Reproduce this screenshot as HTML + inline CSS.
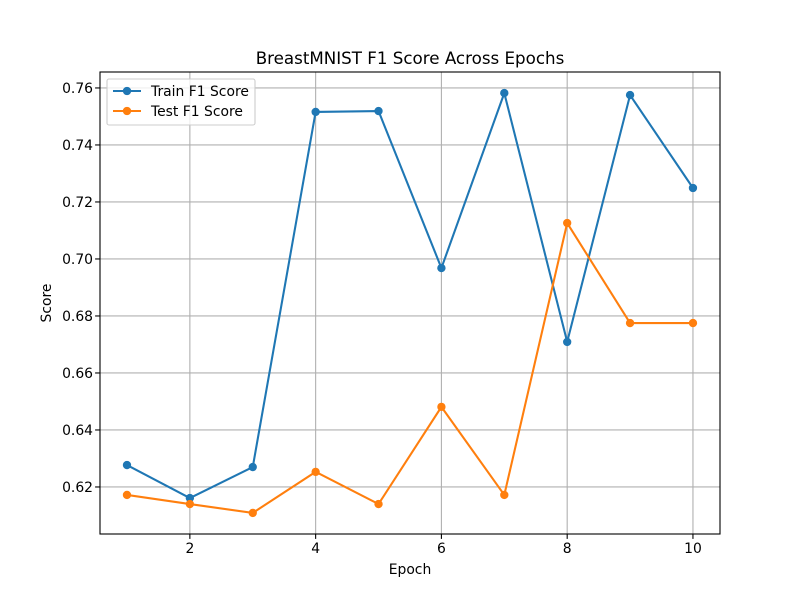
<!DOCTYPE html>
<html><head><meta charset="utf-8"><style>body{margin:0;background:#fff}svg{display:block;font-family:"DejaVu Sans","Liberation Sans",sans-serif}</style></head>
<body>
<svg id="chart" width="800" height="600"></svg>
<script>
const epochs=[1,2,3,4,5,6,7,8,9,10];
const trainF1=[0.6277,0.6161,0.627,0.7516,0.7519,0.6968,0.7582,0.6709,0.7575,0.7249];
const testF1=[0.6172,0.614,0.6109,0.6253,0.614,0.6481,0.6172,0.7126,0.6775,0.6775];
const xTicks=[2,4,6,8,10];
const yTicks=[0.62,0.64,0.66,0.68,0.70,0.72,0.74,0.76];
const L=100,R=720,T=72,B=534,x0=0.571,x1=10.43,y0=0.6035,y1=0.7656;
const X=v=>L+(v-x0)/(x1-x0)*(R-L);
const Y=v=>B-(v-y0)/(y1-y0)*(B-T);
const svg=document.getElementById('chart');const NS='http://www.w3.org/2000/svg';
function mk(t,a,p){const e=document.createElementNS(NS,t);for(const k in a)e.setAttribute(k,a[k]);(p||svg).appendChild(e);return e;}
const grid=mk('g',{});


xTicks.forEach(v=>{mk('line',{x1:X(v),x2:X(v),y1:T,y2:B,stroke:'#b0b0b0','stroke-width':1.1},grid);
mk('line',{x1:X(v),x2:X(v),y1:B,y2:B+4.9,stroke:'#000','stroke-width':1.1});
const t=mk('text',{x:X(v),y:B+19,'font-size':13.9,'text-anchor':'middle'});t.textContent=v;

});
yTicks.forEach(v=>{mk('line',{x1:L,x2:R,y1:Y(v),y2:Y(v),stroke:'#b0b0b0','stroke-width':1.1},grid);
mk('line',{x1:L-4.9,x2:L,y1:Y(v),y2:Y(v),stroke:'#000','stroke-width':1.1});
const t=mk('text',{x:L-7,y:Y(v)+5,'font-size':13.9,'text-anchor':'end'});t.textContent=v.toFixed(2);

});
function series(d,c,n){const g=mk('g',{});


mk('polyline',{points:d.map((v,i)=>X(epochs[i])+','+Y(v)).join(' '),fill:'none',stroke:c,'stroke-width':2.08},g);
d.forEach((v,i)=>{const p=mk('circle',{cx:X(epochs[i]),cy:Y(v),r:4.17,fill:c},g);

});}
series(trainF1,'#1f77b4','train-series');series(testF1,'#ff7f0e','test-series');
mk('rect',{x:L,y:T,width:R-L,height:B-T,fill:'none',stroke:'#000','stroke-width':1.1});
</script>
<svg width="800" height="600" style="position:absolute;left:0;top:0">
<text x="410" y="64" font-size="16.7" text-anchor="middle">BreastMNIST F1 Score Across Epochs</text>
<text x="410" y="574" font-size="13.9" text-anchor="middle">Epoch</text>
<text x="51" y="303" font-size="13.9" text-anchor="middle" transform="rotate(-90 51 303)">Score</text>
<g>
<rect x="107" y="79" width="148" height="46" rx="2" fill="#fff" fill-opacity="0.8" stroke="#ccc" stroke-width="1.1"/>
<line x1="113" x2="141" y1="91" y2="91" stroke="#1f77b4" stroke-width="2.08"/><circle cx="127" cy="91" r="4.17" fill="#1f77b4"/>
<text x="151" y="96" font-size="13.9">Train F1 Score</text>
<line x1="113" x2="141" y1="111" y2="111" stroke="#ff7f0e" stroke-width="2.08"/><circle cx="127" cy="111" r="4.17" fill="#ff7f0e"/>
<text x="151" y="116" font-size="13.9">Test F1 Score</text>
</g></svg>
</body></html>
